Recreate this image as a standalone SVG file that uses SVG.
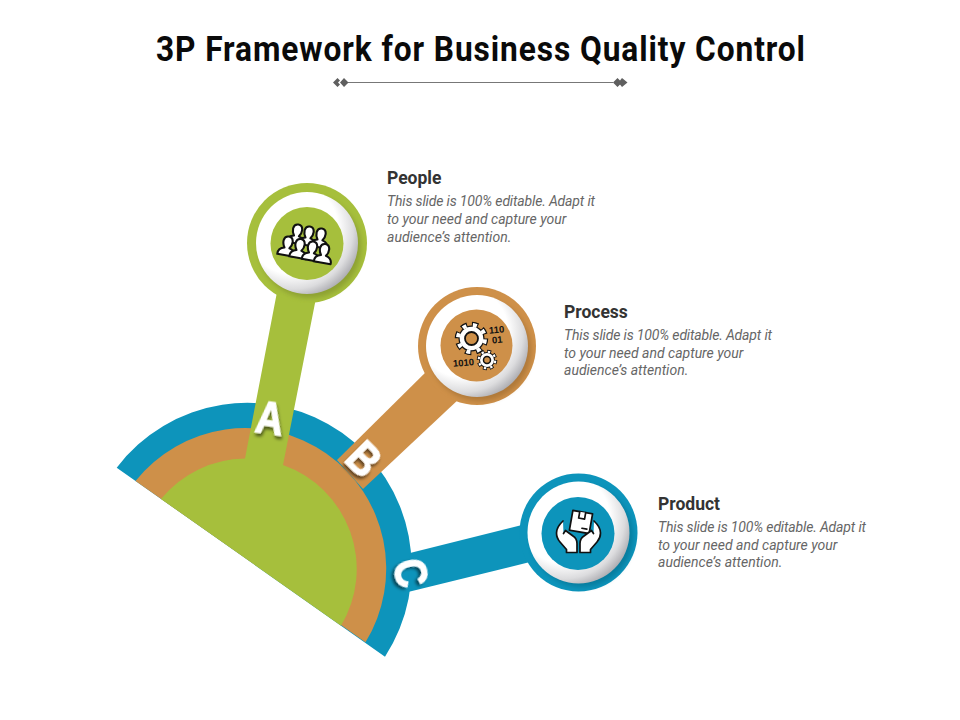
<svg xmlns="http://www.w3.org/2000/svg" xmlns:xlink="http://www.w3.org/1999/xlink" width="960" height="720" viewBox="0 0 960 720">
<style>
.t{font-family:"Roboto","Liberation Sans",sans-serif}
.title{font-size:36px;font-weight:700;fill:#0a0a0a}
.head{font-size:17.5px;font-weight:700;fill:#333}
.body{font-size:14px;font-style:italic;fill:#666}
.letter{font-family:"Liberation Sans",sans-serif;font-size:46px;font-weight:700;fill:#fff;stroke:#fff;stroke-width:1.2;text-anchor:middle;filter:url(#ls)}
.ico{stroke:#111;stroke-width:1.7;stroke-linejoin:round;stroke-linecap:round}
.ppl{stroke-width:2.1}
.bin{font-family:"Liberation Sans",sans-serif;font-size:9.5px;font-weight:700;fill:#111}
.green{fill:#a6bf3c}.orange{fill:#ce9049}.blue{fill:#0d94bb}
</style>
<defs>
<radialGradient id="disc" cx="0.36" cy="0.36" r="0.74">
<stop offset="0.6" stop-color="#fff"/><stop offset="0.8" stop-color="#dcdcde"/><stop offset="1" stop-color="#9a9aa0"/>
</radialGradient>
<filter id="sh" x="-30%" y="-30%" width="160%" height="160%"><feGaussianBlur stdDeviation="2.5"/></filter>
<filter id="ls" x="-40%" y="-40%" width="180%" height="180%"><feDropShadow dx="1.5" dy="3" stdDeviation="1.8" flood-color="#000" flood-opacity="0.55"/></filter>
<g id="person"><path class="ico ppl" fill="#fff" d="M-8.500 13.500Q-9 7.500 -2.500 6Q-4.800 3 -4.600 -1Q-4 -5.500 0 -5.500Q4 -5.500 4.600 -1Q4.800 3 2.500 6Q9 7.500 8.500 13.500Z"/></g>
<g id="hand"><path class="ico" fill="#fff" d="M563 521Q556.500 527 556.500 533Q556.500 538 560 542L566.500 549.500L566.500 552.500L577 552.500L577 543.500Q577 538.500 573 536L565.500 530.500L563.500 533.500"/></g>
</defs>

<g id="connectors">
<path class="blue" d="M116.700 467.700A164.200 164.200 0 0 1 385 656.700Z"/>
<path class="orange" d="M135.500 481A140.700 140.700 0 0 1 365.500 642.200Z"/>
<path class="blue" d="M410 553L530 523L538 560L408 592Z"/>
<path class="orange" d="M337 460L432 366L460 398L363 489Z"/>
<path class="green" d="M161 498.900A110.200 110.200 0 0 1 245 458.500L277 292L316 298L283 465A110.200 110.200 0 0 1 341 625.700Z"/>
</g>

<g id="title">
<text class="t title" transform="translate(156 61) scale(0.88 1)" textLength="737.500" lengthAdjust="spacing">3P Framework for Business Quality Control</text>
<path d="M348 82.500H613" stroke="#777" stroke-width="1.200"/>
<path fill="#5f5f5f" d="M333 82.500L337.500 78L340 80.500L338 82.500L340 84.500L337.500 87ZM340 82.500L344 78L348.500 82.500L344 87ZM613 82.500L617.500 78L622 82.500L617.500 87ZM622 78L627.500 82.500L622 87L620 84.500L622 82.500L620 80.500Z"/>
</g>

<g id="node-people">
<circle class="green" cx="307" cy="243" r="60"/>
<circle cx="310" cy="247" r="51" fill="#6f7d28" opacity="0.45" filter="url(#sh)"/>
<circle cx="307" cy="243" r="51" fill="url(#disc)"/>
<circle class="green" cx="307" cy="243.500" r="36.500"/>
<g>
<use xlink:href="#person" transform="translate(297.500 230) rotate(10)"/>
<use xlink:href="#person" transform="translate(309 232) rotate(10)"/>
<use xlink:href="#person" transform="translate(321 234) rotate(10)"/>
<use xlink:href="#person" transform="translate(288 242) rotate(10)"/>
<use xlink:href="#person" transform="translate(300 244.500) rotate(10)"/>
<use xlink:href="#person" transform="translate(312.500 247) rotate(10)"/>
<use xlink:href="#person" transform="translate(324.500 249.500) rotate(10)"/>
</g>
<text class="t head" x="387" y="184">People</text>
<text class="t body"><tspan x="387" y="206" textLength="208">This slide is 100% editable. Adapt it</tspan><tspan x="387" y="224">to your need and capture your</tspan><tspan x="387" y="242">audience’s attention.</tspan></text>
</g>

<g id="node-process">
<circle class="orange" cx="477" cy="346" r="59"/>
<circle cx="480" cy="350" r="51" fill="#8a5d28" opacity="0.45" filter="url(#sh)"/>
<circle cx="477" cy="346" r="51" fill="url(#disc)"/>
<circle class="orange" cx="476.500" cy="345.500" r="36"/>
<g>
<circle cx="471.500" cy="338.500" r="13" fill="#111"/>
<circle cx="471.500" cy="338.500" r="13.500" fill="none" stroke="#111" stroke-width="6.500" stroke-dasharray="6 4.600"/>
<circle cx="471.500" cy="338.500" r="13.500" fill="none" stroke="#fff" stroke-width="4" stroke-dasharray="4 6.600" stroke-dashoffset="-1"/>
<circle cx="471.500" cy="338.500" r="11.800" fill="#fff"/>
<circle cx="471.500" cy="338.500" r="6.500" fill="#ce9049" stroke="#111" stroke-width="1.800"/>
<circle cx="487" cy="360" r="8" fill="#111"/>
<circle cx="487" cy="360" r="8.300" fill="none" stroke="#111" stroke-width="4" stroke-dasharray="3.800 2.700"/>
<circle cx="487" cy="360" r="8.300" fill="none" stroke="#fff" stroke-width="2.200" stroke-dasharray="2.400 4.100" stroke-dashoffset="-0.700"/>
<circle cx="487" cy="360" r="7" fill="#fff"/>
<circle cx="487" cy="360" r="3.500" fill="#ce9049" stroke="#111" stroke-width="1.500"/>
<text class="bin" x="489" y="333" transform="rotate(-5 497 330)">110</text>
<text class="bin" x="492" y="343" transform="rotate(-5 497 340)">01</text>
<text class="bin" x="453" y="366" transform="rotate(-5 463 363)">1010</text>
</g>
<text class="t head" x="564" y="318">Process</text>
<text class="t body"><tspan x="564" y="340" textLength="208">This slide is 100% editable. Adapt it</tspan><tspan x="564" y="358">to your need and capture your</tspan><tspan x="564" y="375">audience’s attention.</tspan></text>
</g>

<g id="node-product">
<circle class="blue" cx="578.500" cy="532.500" r="59"/>
<circle cx="582" cy="536" r="51" fill="#06607c" opacity="0.45" filter="url(#sh)"/>
<circle cx="578.500" cy="532.500" r="51" fill="url(#disc)"/>
<circle class="blue" cx="578" cy="533.500" r="36.500"/>
<g>
<g transform="rotate(10 581 522)">
<rect class="ico" fill="#fff" x="571" y="512" width="20" height="20"/>
<path class="ico" fill="#fff" d="M578 512V518.500H584V512"/>
<path class="ico" fill="none" d="M583 528H588"/>
</g>
<use xlink:href="#hand"/>
<use xlink:href="#hand" transform="translate(1157 0) scale(-1 1)"/>
</g>
<text class="t head" x="658" y="510">Product</text>
<text class="t body"><tspan x="658" y="532" textLength="208">This slide is 100% editable. Adapt it</tspan><tspan x="658" y="550">to your need and capture your</tspan><tspan x="658" y="567">audience’s attention.</tspan></text>
</g>

<g id="letters">
<text class="letter" transform="translate(270 418) rotate(8) scale(0.84 1)" y="16">A</text>
<text class="letter" transform="translate(364 459) rotate(45) scale(0.84 1)" y="16">B</text>
<text class="letter" transform="translate(411 573) rotate(77) scale(0.84 1)" y="16">C</text>
</g>
</svg>
